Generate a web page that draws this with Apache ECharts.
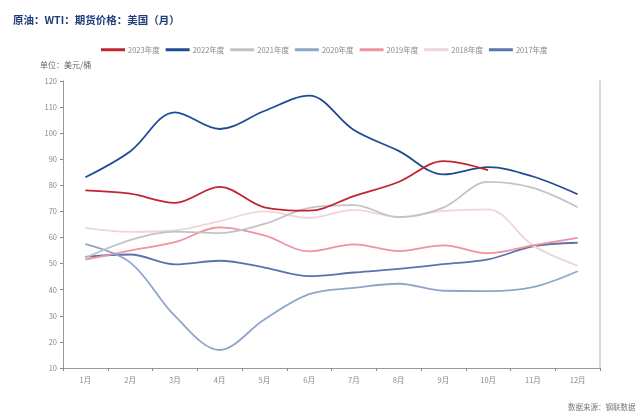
<!DOCTYPE html>
<html><head><meta charset="utf-8">
<script src="https://cdn.jsdelivr.net/npm/echarts@6/dist/echarts.min.js"></script>
<style>html,body{margin:0;padding:0;background:#fff}#c{width:641px;height:414px}</style>
</head><body><div id="c"></div>
<script>
const months = ['1月','2月','3月','4月','5月','6月','7月','8月','9月','10月','11月','12月'];
const yearNames = ['2023年度','2022年度','2021年度','2020年度','2019年度','2018年度','2017年度'];
const y2023 = [78.1, 76.8, 73.3, 79.4, 71.6, 70.3, 75.9, 81.3, 89.3, 85.8];
const y2022 = [83.1, 93.0, 108.0, 101.6, 108.5, 114.4, 101.2, 93.2, 84.2, 87.0, 83.4, 76.6];
const y2021 = [52.2, 59.0, 62.3, 61.7, 65.2, 71.4, 72.4, 67.8, 71.5, 81.3, 79.0, 71.6];
const y2020 = [57.5, 50.5, 30.0, 16.9, 28.6, 38.3, 40.7, 42.3, 39.6, 39.5, 41.0, 47.1];
const y2019 = [51.5, 55.0, 58.2, 63.9, 60.8, 54.7, 57.4, 54.8, 57.0, 54.0, 57.0, 59.9];
const y2018 = [63.7, 62.2, 62.7, 66.3, 70.0, 67.5, 70.6, 67.9, 70.2, 70.8, 57.0, 49.2];
const y2017 = [52.6, 53.5, 49.7, 51.1, 48.5, 45.2, 46.6, 48.0, 49.8, 51.6, 56.6, 58.0];
const seriesData = [y2023, y2022, y2021, y2020, y2019, y2018, y2017];
const colors = ['#c22530', '#1f4b93', '#c3c3c3', '#8fa6ca', '#f0929f', '#ecd6d9', '#5874aa'];
const yTicks = {min: 10, max: 120, interval: 10};

const chart = echarts.init(document.getElementById('c'), null, {renderer: 'canvas'});
const font = '"Noto Sans CJK SC", "Noto Sans", sans-serif';
chart.setOption({
  animation: false,
  color: colors,
  textStyle: {fontFamily: font},
  title: {
    text: '原油：WTI：期货价格：美国（月）',
    left: 8, top: 10,
    textStyle: {fontSize: 10.5, fontWeight: 'bold', color: '#1d3f78', fontFamily: font}
  },
  legend: {
    data: yearNames,
    left: 96, top: 41,
    icon: 'rect', itemWidth: 24, itemHeight: 3, itemGap: 6,
    textStyle: {fontSize: 7.5, color: '#888', fontFamily: font, padding: [0,0,0,-2]}
  },
  graphic: [
    {type: 'text', left: 40, top: 61, style: {text: '单位：美元/桶', fontSize: 8, fill: '#666', fontFamily: font}},
    {type: 'text', left: 568, top: 403, style: {text: '数据来源：钢联数据', fontSize: 7.5, fill: '#777', fontFamily: font}}
  ],
  grid: {left: 63, right: 41, top: 81, bottom: 46},
  xAxis: {
    type: 'category', data: months, boundaryGap: true,
    axisLine: {lineStyle: {color: '#999'}},
    axisTick: {show: true, length: 3, inside: false, lineStyle: {color: '#888'}},
    axisLabel: {fontSize: 7.5, color: '#888', margin: 8}
  },
  yAxis: [{
    type: 'value', min: yTicks.min, max: yTicks.max, interval: yTicks.interval,
    axisLine: {show: true, lineStyle: {color: '#999'}},
    axisTick: {show: true, length: 3, lineStyle: {color: '#888'}},
    axisLabel: {fontSize: 7.5, color: '#888', margin: 6},
    splitLine: {show: false}
  }, {
    type: 'value', position: 'right', min: yTicks.min, max: yTicks.max, interval: yTicks.interval,
    axisLine: {show: true, lineStyle: {color: '#ccc', width: 1.5}},
    axisTick: {show: false}, axisLabel: {show: false}, splitLine: {show: false}
  }],
  series: yearNames.map((n, i) => ({
    name: n, type: 'line', data: seriesData[i], smooth: 0.35,
    showSymbol: false, symbol: 'none',
    lineStyle: {width: 1.8, color: colors[i]},
    z: 10 - i
  }))
});
</script></body></html>
